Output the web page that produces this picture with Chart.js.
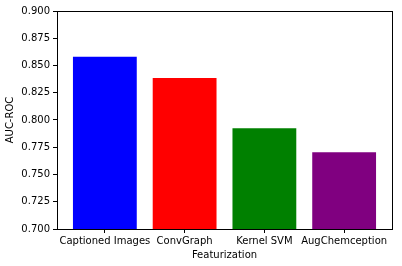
<!DOCTYPE html>
<html>
<head>
<meta charset="UTF-8">
<script src="https://cdn.jsdelivr.net/npm/chart.js"></script>
<style>
  html, body { margin: 0; padding: 0; background: #fff; }
  #wrap { width: 402px; height: 266px; }
</style>
</head>
<body>
<div id="wrap"><canvas id="barChart" width="402" height="266"></canvas></div>
<script>
// values
var categories = ['Captioned Images', 'ConvGraph', 'Kernel SVM', 'AugChemception'];
var aucValues = [0.858, 0.8385, 0.7925, 0.7705];
var barColors = ['#0000ff', '#ff0000', '#008000', '#800080'];
var yTicks = [0.700, 0.725, 0.750, 0.775, 0.800, 0.825, 0.850, 0.875, 0.900];

// box round the plot area, like matplotlib spines
var frame = {
    id: 'frame',
    afterDraw: function (chart) {
        var a = chart.chartArea;
        var c = chart.ctx;
        c.save();
        c.strokeStyle = '#000';
        c.lineWidth = 1;
        c.strokeRect(Math.round(a.left) + 0.5, Math.round(a.top) + 0.5,
            Math.round(a.right - a.left), Math.round(a.bottom - a.top));
        c.restore();
    }
};

Chart.defaults.font.family = 'DejaVu Sans';
Chart.defaults.font.size = 10;
Chart.defaults.color = '#000';

var ctx = document.getElementById('barChart').getContext('2d');
var chart = new Chart(ctx, {
    type: 'bar',
    data: {
        datasets: [{
            data: aucValues.map(function (v, i) { return { x: i, y: v }; }),
            backgroundColor: barColors,
            borderWidth: 0,
            categoryPercentage: 1,
            barPercentage: 0.8
        }]
    },
    options: {
        responsive: false,
        animation: false,
        layout: { padding: { top: 11, right: 10, left: 0, bottom: 0 } },
        plugins: { legend: { display: false }, tooltip: { enabled: false } },
        scales: {
            x: {
                type: 'linear',
                offset: false,
                min: -0.6,
                max: 3.6,
                afterBuildTicks: function (scale) {
                    scale.ticks = categories.map(function (c, i) { return { value: i }; });
                },
                afterFit: function (scale) { scale.height = 37; },
                grid: { drawOnChartArea: false, drawTicks: true, tickLength: 4, color: '#000', offset: false },
                border: { display: false },
                ticks: {
                    padding: 2,
                    maxRotation: 0,
                    autoSkip: false,
                    callback: function (v) { return categories[v]; }
                },
                title: { display: true, text: 'Featurization', padding: { top: 0, bottom: 5 } }
            },
            y: {
                min: 0.7,
                max: 0.9,
                afterBuildTicks: function (scale) {
                    scale.ticks = yTicks.map(function (v) { return { value: v }; });
                },
                afterFit: function (scale) { scale.width = 57; },
                grid: { drawOnChartArea: false, drawTicks: true, tickLength: 4, color: '#000' },
                border: { display: false },
                ticks: {
                    padding: 3,
                    callback: function (v) { return v.toFixed(3); }
                },
                title: { display: true, text: 'AUC-ROC', padding: { top: 4, bottom: 0 } }
            }
        }
    },
    plugins: [frame]
});
</script>
</body>
</html>
